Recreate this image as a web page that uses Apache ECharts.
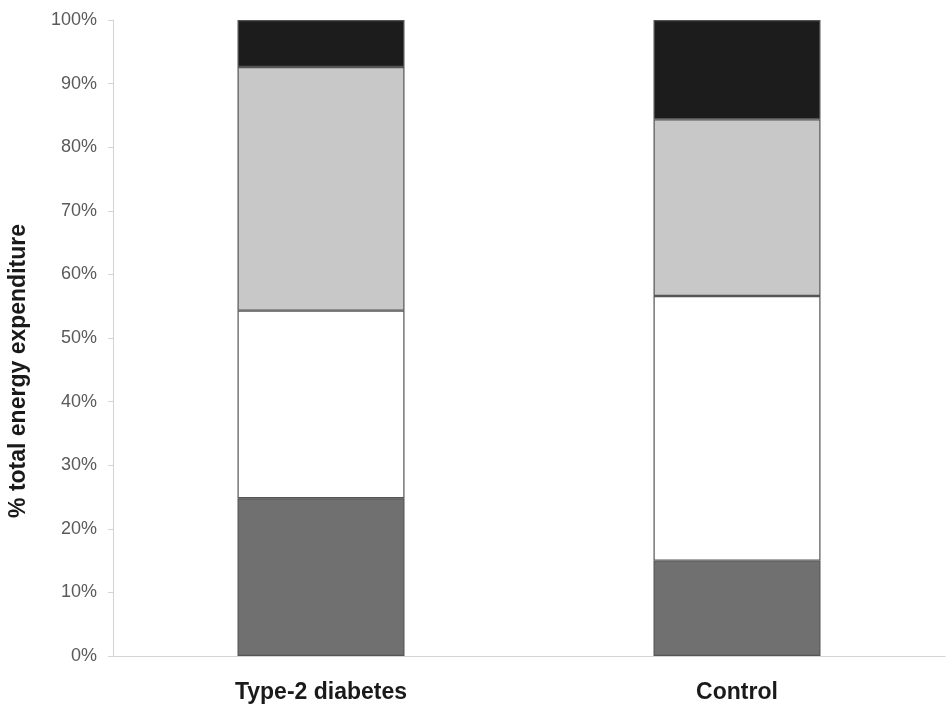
<!DOCTYPE html>
<html><head><meta charset="utf-8">
<script src="https://cdn.jsdelivr.net/npm/echarts@6/dist/echarts.min.js"></script>
<style>html,body{margin:0;padding:0;background:#fff}#c{width:950px;height:705px}</style>
</head><body><div id="c"></div>
<script>
const categories = ["Type-2 diabetes", "Control"];
const segment1 = [24.8, 15.0];   // dark gray (bottom)
const segment2 = [29.5, 41.6];   // white
const segment3 = [38.3, 27.8];   // light gray
const segment4 = [7.4, 15.6];    // black (top)
const yTicks = [0, 10, 20, 30, 40, 50, 60, 70, 80, 90, 100];
const yTitle = '% total energy expenditure';

const colors = ["#707070", "#ffffff", "#c8c8c8", "#1c1c1c"];
const segs = [segment1, segment2, segment3, segment4];
const FONT = 'Liberation Sans, Arial, sans-serif';

const chart = echarts.init(document.getElementById('c'), null, {renderer: 'canvas'});
chart.setOption({
  animation: false,
  grid: {left: 113, right: 5, top: 20, bottom: 49},
  graphic: [{
    type: 'text', left: 7, top: 224, rotation: Math.PI / 2,
    style: {text: yTitle, fill: '#1a1a1a', font: 'bold 23px ' + FONT}
  }],
  xAxis: {
    type: 'category', data: categories,
    axisLine: {lineStyle: {color: '#d4d4d4', width: 1}},
    axisTick: {show: false},
    axisLabel: {color: '#1a1a1a', fontFamily: FONT, fontWeight: 'bold', fontSize: 23, margin: 25}
  },
  yAxis: {
    type: 'value', min: yTicks[0], max: yTicks[yTicks.length - 1], interval: 10,
    axisLine: {show: true, lineStyle: {color: '#d4d4d4', width: 1}},
    axisTick: {show: true, length: 5, lineStyle: {color: '#d4d4d4'}},
    splitLine: {show: false},
    axisLabel: {formatter: '{value}%', color: '#5a5a5a', fontFamily: FONT, fontSize: 18, margin: 16}
  },
  series: segs.map((d, i) => ({
    type: 'bar', stack: 'total', data: d, barWidth: 167,
    itemStyle: {color: colors[i], borderColor: '#555', borderWidth: 1.2}
  }))
});
</script></body></html>
